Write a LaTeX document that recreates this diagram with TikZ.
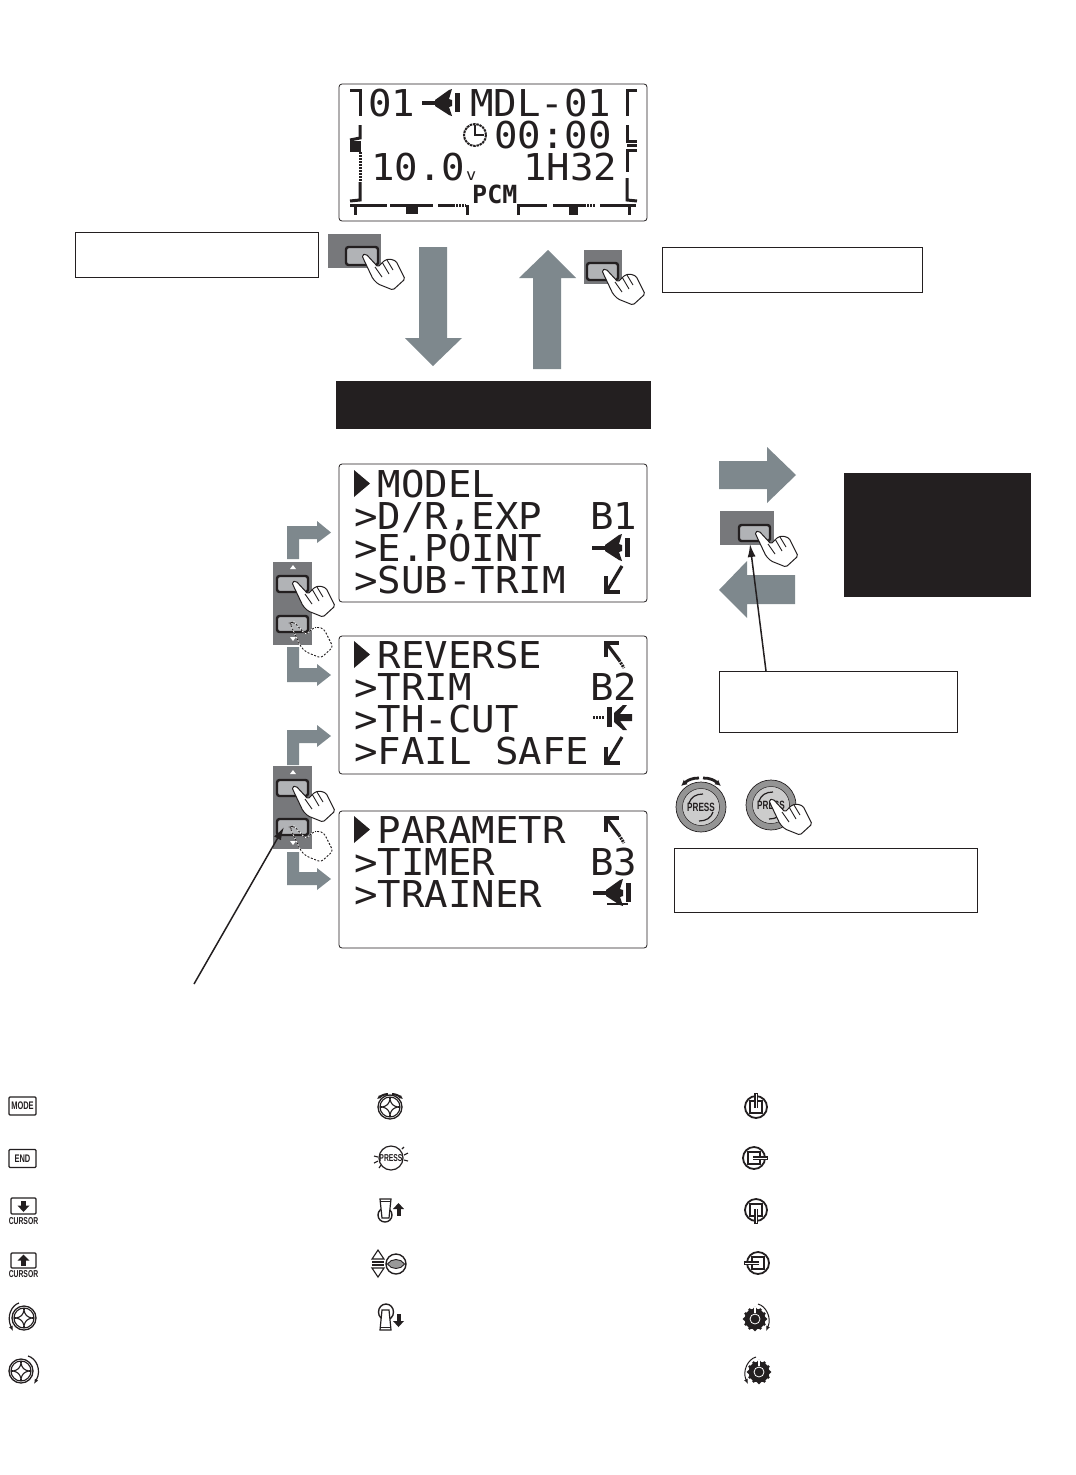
\documentclass[tikz,border=0pt]{standalone}
\usepackage{fontspec}
\usetikzlibrary{arrows.meta}
\setmainfont{Liberation Sans}
\newfontfamily\lcdfont[FakeStretch=1.055]{DejaVu Sans Mono}
\newfontfamily\lcdboldfont{DejaVu Sans Mono Bold}
\newfontfamily\narrowfont[FakeStretch=0.68]{Liberation Sans Bold}
\definecolor{ink}{HTML}{231F20}
\definecolor{bigarrow}{HTML}{7E888D}
\definecolor{padgray}{HTML}{77787B}
\definecolor{btnfill}{HTML}{B1B3B6}
\tikzset{
  panel/.style={draw=ink,fill=white,line width=.8pt,rounded corners=3pt},
  lcd/.style={anchor=base west,inner sep=0pt,text=ink,font=\lcdfont\fontsize{37}{37}\selectfont},
  lcdsmall/.style={anchor=base west,inner sep=0pt,text=ink,font=\lcdboldfont\fontsize{25}{25}\selectfont},
  lbox/.style={draw=ink,fill=white,line width=.6pt,anchor=north west,inner sep=0pt,minimum width=#1},
  solidbox/.style={fill=ink,anchor=north west,inner sep=0pt,minimum width=#1},
  arrowshape/.style={fill=bigarrow,draw=none},
  pad/.style={fill=padgray,draw=none},
  keybtn/.style={fill=btnfill,draw=ink,line width=2.4pt,rounded corners=2.5pt},
  trim/.style={draw=ink,line width=3pt},
  trimdot/.style={draw=ink,line width=3pt,dash pattern=on 2pt off 1pt},
  iconline/.style={draw=ink,line width=3.2pt},
  thinicon/.style={draw=ink,line width=1.1pt},
  leader/.style={draw=ink,line width=1.5pt,-{Latex[length=13pt,width=8pt]}},
  narrowtext/.style={inner sep=0pt,text=ink,font=\narrowfont\fontsize{#1}{#1}\selectfont},
  % ---------- hands
  hand/.pic={
    \draw[fill=white,draw=ink,line width=1pt,rounded corners=1.6pt]
      (0,0)--(4,-1)--(16,12)--(23,5)--(28,4)--(34,6)--(43,24)--(31,35)--(16,29)--(11,24)--(1,3)--cycle;
    \draw[ink,line width=.9pt] (13,12)--(20,22) (20,7)--(27,19) (25,5)--(31,15);
  },
  ghosthand/.pic={
    \path[draw=white,line width=.8pt,rounded corners=3pt]
      (0,0)--(4,-1)--(16,12)--(23,5)--(28,4)--(34,6)--(43,24)--(31,35)--(16,29)--(11,24)--(1,3)--cycle;
    \draw[ink,line width=.9pt,dash pattern=on 2pt off 1.6pt,rounded corners=3pt]
      (0,0)--(4,-1)--(16,12)--(23,5)--(28,4)--(34,6)--(43,24)--(31,35)--(16,29)--(11,24)--(1,3)--cycle;
  },
  % ---------- LCD glyph icons (origin: top-left of the icon)
  planeleft/.pic={
    \fill[ink] (0,12) rectangle (18,15.5);
    \fill[ink] (13,11)--(27,1)--(30,0)--(27,10)--(30,11)--(30,17)--(27,18)--(30,27)--(27,26)--(13,17)--cycle;
    \fill[ink] (33,4) rectangle (38,23);
  },
  planeright/.pic={
    \draw[draw=ink,line width=3pt,dash pattern=on 2pt off 1pt] (0,12)--(12,12);
    \fill[ink] (14,2) rectangle (19,22);
    \fill[ink] (21,8)--(30,0)--(34,0)--(27,9)--(39,9)--(39,16)--(27,16)--(34,25)--(30,25)--(21,17)--cycle;
  },
  arrowdl/.pic={
    \draw[iconline] (2,10)--(2,26)--(16,26);
    \draw[iconline] (3,25)--(18,0);
  },
  arrowul/.pic={
    \draw[iconline] (1,15)--(1,1)--(14,1);
    \draw[iconline] (2,2)--(14,18);
    \draw[trimdot] (14,18)--(19,26);
  },
  mark/.pic={\fill[ink] (0,0)--(0,27)--(16,13.5)--cycle;},
  % ---------- small dial with four-pointed star
  stardial/.pic={
    \draw[draw=ink,line width=1.3pt,fill=white] (0,0) circle (12);
    \draw[thinicon] (0,0) circle (10);
    \draw[thinicon] (0,-8).. controls (1,-3) and (3,-1) .. (8,0).. controls (3,1) and (1,3) .. (0,8)
       .. controls (-1,3) and (-3,1) .. (-8,0).. controls (-3,-1) and (-1,-3) .. (0,-8)--cycle;
    \draw[thinicon] (0,-10)--(0,-8) (10,0)--(8,0) (0,10)--(0,8) (-10,0)--(-8,0);
  },
  stick/.pic={
    \draw[draw=ink,line width=1.8pt,fill=white] (0,0) circle (11);
    \draw[draw=ink,line width=1.2pt] (-6,-6) rectangle (6,6);
    \draw[draw=ink,line width=3.4pt] (0,1)--(0,-14);
    \draw[white,line width=.7pt] (0,1)--(0,-13);
  },
  knob/.pic={
    \fill[ink] (0,0) circle (10.5);
    \foreach \a in {0,30,...,330} {\fill[ink] (\a:10.5) circle (1.8);}
    \draw[white,line width=.8pt] (0,0) circle (5);
    \draw[white,line width=1.6pt] (0,-6)--(0,-12);
  },
  bigdial/.pic={
    \draw[ink,line width=.7pt,fill=black!42] (0,0) circle (25);
    \draw[ink,line width=.5pt,fill=black!20] (0,0) circle (18.5);
    \draw[ink,line width=1.2pt] (-12,-4) .. controls (-10,-10) and (-5,-13) .. (2,-13);
    \draw[ink,line width=1.2pt] (12,5) .. controls (10,11) and (5,14) .. (-2,14);
  },
}
\begin{document}
\begin{tikzpicture}[x=1pt,y=-1pt]
\useasboundingbox (0,0) rectangle (1076,1475);
\fill[white] (0,0) rectangle (1076,1475);

% ---------------- top screen
\draw[panel] (339,84) rectangle (647,221);
\node[lcd] (t01) at (368,116) {01};
\pic at (422,89) {planeleft};
\node[lcd] (tmdl) at (470,116) {MDL-01};
\node[lcd] (ttime) at (494,148) {00:00};
\node[lcd] (tvolt) at (371,180) {10.0};
\node[lcd,font=\lcdfont\fontsize{16}{16}\selectfont] (tv) at (466,180) {v};
\node[lcd] (thour) at (523,180) {1H32};
\node[lcdsmall] (tpcm) at (472,203) {PCM};
% clock
\draw[draw=ink,line width=2pt,dash pattern=on 2.5pt off .8pt] (475,135) circle (11);
\draw[draw=ink,line width=1.8pt] (475,125)--(475,135)--(484,135);
% left trim
\draw[trim] (350,90)--(360,90)--(360,116);
\draw[trim] (360,125)--(360,138)--(350,140);
\fill[ink] (350,141) rectangle (361,152);
\draw[trimdot] (360,152)--(360,181);
\draw[trim] (360,182)--(360,200)--(350,201);
% right trim
\draw[trim] (637,90)--(627,90)--(627,116);
\draw[trim] (627,125)--(627,141)--(637,141);
\draw[trim] (627,145)--(637,145);
\draw[trim] (637,150)--(627,150)--(627,172);
\draw[trim] (627,178)--(627,200)--(637,201);
% bottom trim
\draw[trim] (350,205)--(387,205);
\draw[trim] (390,205)--(433,205);
\fill[ink] (406,205) rectangle (418,214);
\draw[trim] (438,205)--(453,205);
\draw[trimdot] (453,205)--(466,205);
\draw[trim] (355,205)--(355,215) (467,205)--(467,215);
\draw[trim] (518,215)--(518,205)--(547,205);
\draw[trim] (553,205)--(586,205);
\fill[ink] (569,205) rectangle (578,215);
\draw[trimdot] (578,205)--(595,205);
\draw[trim] (600,205)--(636,205);
\draw[trim] (629,205)--(629,215);

% ---------------- upper keys and arrows
\fill[pad] (328,234) rectangle (381,268);
\draw[keybtn] (346,247) rectangle (378,265);
\pic at (362,255) {hand};
\fill[pad] (584,250) rectangle (622,284);
\draw[keybtn] (587,263) rectangle (618,280);
\pic at (602,270) {hand};

\fill[arrowshape] (419,247)--(447,247)--(447,338)--(462,338)--(433,366)--(405,338)--(419,338)--cycle;
\fill[arrowshape] (533,369)--(561,369)--(561,278)--(576,278)--(548,250)--(519,278)--(533,278)--cycle;

\node[lbox=243pt,minimum height=45pt] (boxa) at (74.5,231.5) {};
\node[lbox=260pt,minimum height=45pt] (boxb) at (661.5,246.5) {};
\node[solidbox=315pt,minimum height=48pt] (bar) at (336,381) {};
\node[solidbox=187pt,minimum height=124pt] (blk) at (844,473) {};

% ---------------- menu screen 1
\draw[panel] (339,464) rectangle (647,602);
\pic at (354,470) {mark};
\node[lcd] (a1) at (377.5,497) {MODEL};
\node[lcd] (a2) at (354,529) {>D/R\raisebox{4pt}{,}EXP};
\node[lcd] (a2b) at (590,529) {B1};
\node[lcd] (a3) at (354,561) {>E.POINT};
\node[lcd] (a4) at (354,593) {>SUB-TRIM};
\pic at (592,534) {planeleft};
\pic at (604,566) {arrowdl};
% ---------------- menu screen 2
\draw[panel] (339,636) rectangle (647,774);
\pic at (354,641) {mark};
\node[lcd] (b1) at (377.5,668) {REVERSE};
\pic at (605,642) {arrowul};
\node[lcd] (b2) at (354,700) {>TRIM};
\node[lcd] (b2b) at (590,700) {B2};
\node[lcd] (b3) at (354,732) {>TH-CUT};
\pic at (593,705) {planeright};
\node[lcd] (b4) at (354,764) {>FAIL SAFE};
\pic at (604,737) {arrowdl};
% ---------------- menu screen 3
\draw[panel] (339,811) rectangle (647,948);
\pic at (354,816) {mark};
\node[lcd] (c1) at (377.5,843) {PARAMETR};
\pic at (605,817) {arrowul};
\node[lcd] (c2) at (354,875) {>TIMER};
\node[lcd] (c2b) at (590,875) {B3};
\node[lcd] (c3) at (354,907) {>TRAINER};
\pic at (593,879) {planeleft};
\draw[ink,line width=1.6pt] (607,904)--(628,904);

% ---------------- L arrows
\fill[arrowshape] (287,559)--(287,526)--(317,526)--(317,521)--(331,532.5)--(317,543)--(317,539)--(299,539)--(299,559)--cycle;
\fill[arrowshape] (287,647)--(299,647)--(299,668)--(317,668)--(317,664)--(331,675)--(317,686)--(317,682)--(287,682)--cycle;
\fill[arrowshape] (287,765)--(287,730)--(317,730)--(317,725)--(331,736)--(317,747)--(317,743)--(299,743)--(299,765)--cycle;
\fill[arrowshape] (287,852)--(299,852)--(299,872)--(317,872)--(317,868)--(331,879)--(317,890)--(317,885)--(287,885)--cycle;

% ---------------- up/down keys 1
\fill[pad] (273,562) rectangle (312,645);
\fill[white] (290,569)--(296,569)--(293,565)--cycle;
\fill[white] (290,637)--(296,637)--(293,641)--cycle;
\draw[keybtn] (277,576) rectangle (308,592);
\draw[keybtn] (277,616) rectangle (308,632);
\pic at (292,582) {hand};
\pic at (290,623) {ghosthand};
% ---------------- up/down keys 2
\fill[pad] (273,766) rectangle (312,849);
\fill[white] (290,774)--(296,774)--(293,770)--cycle;
\fill[white] (290,841)--(296,841)--(293,845)--cycle;
\draw[keybtn] (277,780) rectangle (308,796);
\draw[keybtn] (277,819) rectangle (308,835);
\pic at (292,787) {hand};
\pic at (290,827) {ghosthand};
\coordinate (leadfree) at (194,984);
\coordinate (keytip) at (284,827);
\draw[leader] (leadfree)--(keytip);

% ---------------- right keys and arrows
\fill[arrowshape] (719,461)--(767,461)--(767,447)--(796,475)--(767,503)--(767,489)--(719,489)--cycle;
\fill[arrowshape] (795,575)--(747,575)--(747,561)--(719,590)--(747,618)--(747,604)--(795,604)--cycle;
\fill[pad] (720,511) rectangle (774,545);
\draw[keybtn] (739,525) rectangle (770,541);
\pic at (755,532) {hand};
\node[lbox=238pt,minimum height=61pt] (boxc) at (718.5,670.5) {};
\coordinate (boxctop) at (766,671);
\coordinate (enttip) at (750,544);
\draw[leader] (boxctop)--(enttip);

% ---------------- big dials
\pic at (701,807) {bigdial};
\node[narrowtext=12] (p1) at (701,807) {PRESS};
\draw[ink,line width=2.8pt,-{Latex[length=6pt,width=6pt]}] (699,778) .. controls (692,778) and (688,780) .. (681,786);
\draw[ink,line width=2.8pt,-{Latex[length=6pt,width=6pt]}] (703,778) .. controls (710,778) and (714,780) .. (721,786);
\pic at (771,805) {bigdial};
\node[narrowtext=12] (p2) at (771,805) {PRESS};
\pic at (769,800) {hand};
\node[lbox=303pt,minimum height=64pt] (boxd) at (673.5,847.5) {};

% ---------------- legend column 1
\tikzset{legkey/.style={draw=ink,line width=1.2pt,fill=white,rounded corners=1pt}}
\node[legkey,narrowtext=11,minimum width=27pt,minimum height=18pt] (kmode) at (22.5,1106) {MODE};
\node[legkey,narrowtext=11,minimum width=27pt,minimum height=18pt] (kend) at (22.5,1158.5) {END};
\draw[legkey] (11,1198) rectangle (36,1214);
\fill[ink] (21,1201) rectangle (26,1206);
\fill[ink] (17.5,1205.5)--(29.5,1205.5)--(23.5,1212)--cycle;
\node[narrowtext=10] (kcurd) at (23.5,1221) {CURSOR};
\draw[legkey] (11,1253) rectangle (36,1268);
\fill[ink] (21,1260) rectangle (26,1266);
\fill[ink] (17.5,1260.5)--(29.5,1260.5)--(23.5,1254.5)--cycle;
\node[narrowtext=10] (kcuru) at (23.5,1274) {CURSOR};
\pic at (24,1318) {stardial};
\draw[ink,line width=1.2pt,-{Latex[length=5pt,width=4pt]}] (19,1303) .. controls (12,1305) and (6,1316) .. (13,1331);
\pic at (21,1371) {stardial};
\draw[ink,line width=1.2pt,-{Latex[length=5pt,width=4pt]}] (28,1356) .. controls (36,1358) and (42,1370) .. (34,1384);

% ---------------- legend column 2
\pic at (390,1107) {stardial};
\draw[ink,line width=2pt,-{Latex[length=4pt,width=4pt]}] (388,1094) .. controls (384,1094) and (381,1096) .. (377,1099);
\draw[ink,line width=2pt,-{Latex[length=4pt,width=4pt]}] (392,1094) .. controls (396,1094) and (399,1096) .. (403,1099);
\draw[draw=ink,line width=1.2pt,fill=white] (391,1158) circle (12);
\node[narrowtext=10] (kpress) at (391,1158.5) {PRESS};
\draw[thinicon] (374,1156)--(378,1157) (374,1163)--(378,1161) (379,1168)--(381,1165) (402,1149)--(404,1147) (404,1155)--(408,1153) (404,1160)--(408,1161);
% toggle up
\draw[draw=ink,line width=1.4pt,fill=white] (385,1215) circle (7);
\draw[draw=ink,line width=1.2pt,fill=white] (380,1199)--(391,1199)--(389,1218)--(382,1218)--cycle;
\draw[ink,line width=1.6pt] (380,1201.5)--(391,1201.5);
\fill[ink] (396.5,1208) rectangle (400.5,1216);
\fill[ink] (393,1209)--(404,1209)--(398.5,1203)--cycle;
% rocker
\draw[thinicon,fill=white] (378,1250)--(372,1259)--(384,1259)--cycle;
\fill[ink] (372,1261) rectangle (384,1262.5);
\fill[ink] (372,1264) rectangle (384,1265.5);
\draw[thinicon,fill=white] (378,1277)--(372,1268)--(384,1268)--cycle;
\draw[draw=ink,line width=1.4pt,fill=white] (396,1264) circle (10);
\draw[draw=ink,line width=.9pt,fill=black!40] (387.5,1264).. controls (391,1258) and (401,1258) .. (404.5,1264) .. controls (401,1270) and (391,1270) .. (387.5,1264)--cycle;
% toggle down
\draw[draw=ink,line width=1.4pt,fill=white] (386,1312) ellipse (7.5 and 8);
\draw[draw=ink,line width=1.2pt,fill=white] (380,1330)--(391,1330)--(389,1310)--(382,1310)--cycle;
\draw[ink,line width=1.6pt] (380,1327.5)--(391,1327.5);
\fill[ink] (396.5,1314) rectangle (400.5,1322);
\fill[ink] (393,1321)--(404,1321)--(398.5,1327)--cycle;

% ---------------- legend column 3
\pic at (756,1107) {stick};
\pic[rotate=-90] at (754,1158) {stick};
\pic[rotate=180] at (756,1210) {stick};
\pic[rotate=90] at (758,1263) {stick};
\pic at (755,1319) {knob};
\draw[ink,line width=1pt,-{Latex[length=5pt,width=4pt]}] (758,1304) .. controls (766,1306) and (772,1318) .. (766,1331);
\pic at (759,1372) {knob};
\draw[ink,line width=1pt,-{Latex[length=5pt,width=4pt]}] (756,1357) .. controls (748,1359) and (742,1371) .. (748,1384);
\end{tikzpicture}
\end{document}
